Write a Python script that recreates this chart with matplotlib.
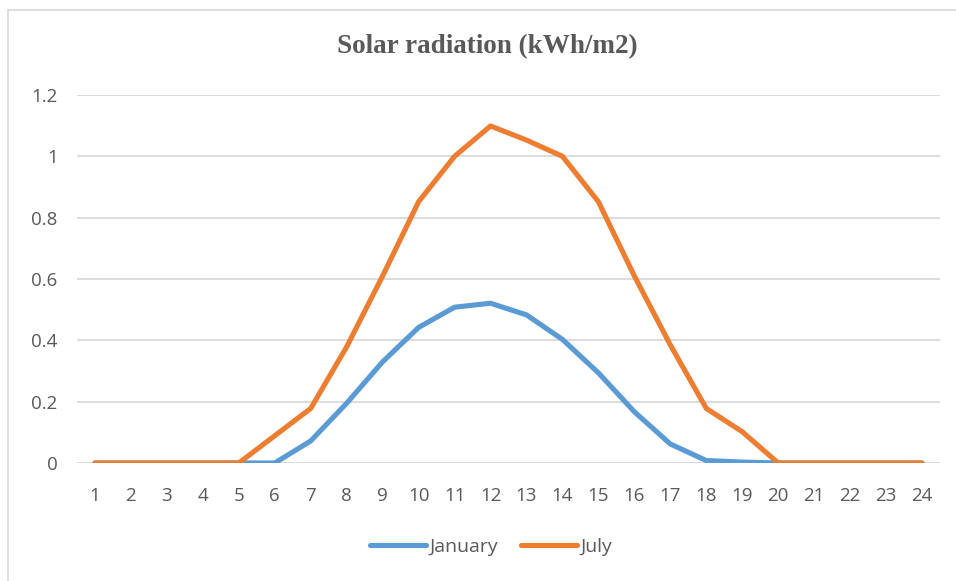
import matplotlib.pyplot as plt
from matplotlib.lines import Line2D

hours = list(range(1, 25))
january = [0, 0, 0, 0, 0, 0, 0.072, 0.195, 0.33, 0.442, 0.508, 0.521, 0.483, 0.403,
           0.294, 0.167, 0.062, 0.008, 0.003, 0, 0, 0, 0, 0]
july = [0, 0, 0, 0, 0, 0.089, 0.178, 0.379, 0.61, 0.852, 1.0, 1.099, 1.053, 1.0,
        0.852, 0.61, 0.385, 0.178, 0.102, 0, 0, 0, 0, 0]
yticks = [0, 0.2, 0.4, 0.6, 0.8, 1, 1.2]
ytick_labels = ["0", "0.2", "0.4", "0.6", "0.8", "1", "1.2"]

W, H = 956, 581
fig = plt.figure(figsize=(W / 100, H / 100), dpi=100)
ax = fig.add_axes([77 / W, 1 - 463 / H, (940 - 77) / W, (463 - 95) / H])

ax.plot(hours, january, color="#5B9BD5", lw=3.7, solid_capstyle="round",
        solid_joinstyle="round", label="January", zorder=3)
ax.plot(hours, july, color="#ED7D31", lw=3.7, solid_capstyle="round",
        solid_joinstyle="round", label="July", zorder=3)

ax.set_xlim(0.5, 24.5)
ax.set_ylim(0, 1.2)
ax.set_xticks(hours)
ax.set_xticklabels([str(h) for h in hours])
ax.set_yticks(yticks)
ax.set_yticklabels(ytick_labels)
ax.grid(axis="y", color="#D9D9D9", lw=1.3)
ax.set_axisbelow(True)
for s in ax.spines.values():
    s.set_visible(False)
ax.tick_params(length=0, labelsize=13.5, colors="#595959")
ax.tick_params(axis="x", pad=17)
ax.tick_params(axis="y", pad=14)
for lab in ax.get_xticklabels() + ax.get_yticklabels():
    lab.set_family("Open Sans")

fig.text(487 / W, 1 - 47 / H, "Solar radiation (kWh/m2)", ha="center", va="center",
         family="Liberation Serif", fontweight="bold", fontsize=19.5, color="#595959")

handles = [Line2D([], [], color="#5B9BD5", lw=3.7, solid_capstyle="round"),
           Line2D([], [], color="#ED7D31", lw=3.7, solid_capstyle="round")]
fig.legend(handles, ["January", "July"], loc="center", bbox_to_anchor=(491 / W, 1 - 547 / H),
           ncol=2, frameon=False, handlelength=2.9, handletextpad=0.15, columnspacing=1.2,
           prop={"family": "Open Sans", "size": 14}, labelcolor="#595959")

# chart border (light gray, only top and left visible)
fig.add_artist(Line2D([8 / W, 1], [1 - 10 / H, 1 - 10 / H], color="#D9D9D9", lw=1.2))
fig.add_artist(Line2D([8 / W, 8 / W], [0, 1 - 10 / H], color="#D9D9D9", lw=1.2))

fig.savefig("out.png", dpi=100)
